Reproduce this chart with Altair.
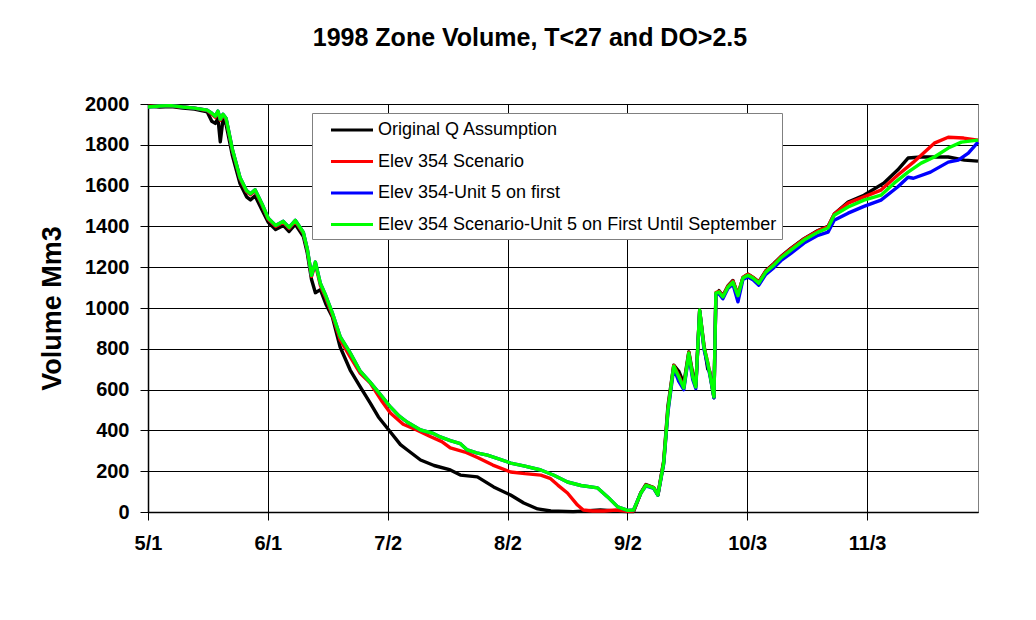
import altair as alt
import pandas as pd

# ---- data (day offset from 5/1/1998, volume Mm3) ----
series_names = [
    "Original Q Assumption",
    "Elev 354 Scenario",
    "Elev 354-Unit 5 on first",
    "Elev 354 Scenario-Unit 5 on First Until September",
]
series_colors = ["#000000", "#FF0000", "#0000FF", "#00FF00"]

tick_days = [0, 31, 62, 93, 124, 155, 186]
tick_labels = ["5/1", "6/1", "7/2", "8/2", "9/2", "10/3", "11/3"]
y_ticks = [0, 200, 400, 600, 800, 1000, 1200, 1400, 1600, 1800, 2000]

original_q = [
    (0, 1990), (3, 1985), (6, 1988), (9, 1980), (12, 1975), (15.3, 1962), (16.5, 1915),
    (17.4, 1905), (18.1, 1930), (18.7, 1815), (19.4, 1925), (20.2, 1900), (21.8, 1750),
    (23.8, 1610), (25.5, 1545), (26.5, 1530), (27.7, 1550), (29.5, 1480), (31.1, 1420),
    (33.0, 1385), (35.0, 1405), (36.5, 1375), (38.1, 1410), (40.2, 1350), (41.2, 1270),
    (42.3, 1140), (43.3, 1075), (44.6, 1090), (46.0, 1020), (47.7, 956), (49.7, 809),
    (52.3, 696), (54.9, 613), (57.5, 534), (59.6, 466), (62.7, 392), (65.3, 330),
    (67.1, 304), (70.5, 255), (74.0, 228), (78.2, 206), (80.8, 181), (85.2, 172),
    (89.4, 123), (93.8, 83), (97.2, 44), (100.8, 15), (104.2, 5), (110.0, 2), (117.0, 10),
    (121.0, 5), (124.1, 2), (125.6, 2), (127.5, 95), (128.8, 135), (130.8, 120),
    (131.9, 85), (133.4, 250), (134.5, 520), (136.0, 720), (137.3, 690), (138.6, 630),
    (139.9, 785), (140.9, 680), (141.7, 620), (142.7, 985), (143.8, 820), (144.8, 700),
    (145.3, 690), (146.4, 560), (146.9, 1065), (147.7, 1085), (148.7, 1060), (150.0, 1108),
    (151.3, 1135), (152.6, 1065), (153.9, 1150), (155.2, 1166), (156.5, 1150), (158.0, 1128),
    (159.8, 1182), (161.9, 1218), (163.7, 1252), (166.3, 1292), (169.7, 1340), (173.3, 1380),
    (175.9, 1400), (177.5, 1460), (181.1, 1519), (185.2, 1553), (190.3, 1612), (193.9, 1676),
    (196.6, 1735), (200.0, 1740), (207.0, 1740), (211.2, 1725), (214.7, 1720),
]

elev354 = [
    (0, 1988), (3, 1990), (6, 1990), (9, 1985), (12, 1980), (15.3, 1968), (16.5, 1950),
    (17.4, 1935), (18.1, 1960), (18.7, 1920), (19.4, 1945), (20.2, 1925), (21.8, 1775),
    (23.8, 1635), (25.5, 1570), (26.5, 1555), (27.7, 1575), (29.5, 1505), (31.1, 1435),
    (33.0, 1400), (35.0, 1420), (36.5, 1390), (38.1, 1425), (40.2, 1365), (41.2, 1285),
    (42.3, 1155), (43.3, 1215), (44.6, 1110), (46.0, 1050), (47.7, 965), (49.7, 845),
    (52.3, 760), (54.9, 680), (57.5, 632), (60.6, 540), (62.7, 485), (66.0, 430),
    (69.5, 402), (73.0, 370), (76.0, 345), (78.2, 314), (82.0, 294), (85.5, 265),
    (89.2, 230), (93.8, 196), (97.5, 188), (101.6, 181), (104.0, 165), (106.0, 132),
    (108.5, 93), (111.1, 34), (112.6, 10), (115.0, 5), (118.0, 5), (121.0, 10), (124.1, 3),
    (125.6, 5), (127.5, 95), (128.8, 132), (130.8, 120), (131.9, 84), (133.4, 245),
    (134.5, 505), (136.0, 718), (137.3, 668), (138.6, 612), (139.9, 782), (140.9, 665),
    (141.7, 616), (142.7, 988), (143.8, 812), (144.8, 732), (145.3, 684), (146.4, 566),
    (146.9, 1076), (147.7, 1082), (148.7, 1058), (150.0, 1106), (151.3, 1132), (152.6, 1064),
    (153.9, 1150), (155.2, 1166), (156.5, 1150), (158.0, 1126), (159.8, 1180), (161.9, 1215),
    (163.7, 1250), (166.3, 1290), (169.7, 1338), (173.3, 1378), (175.9, 1398), (177.5, 1460),
    (181.1, 1514), (185.2, 1545), (189.6, 1578), (193.9, 1651), (198.0, 1715), (203.4, 1808),
    (207.0, 1837), (211.0, 1833), (214.7, 1823),
]

unit5_first = [
    (0, 1985), (3, 1990), (6, 1992), (9, 1985), (12, 1980), (15.3, 1970), (16.5, 1955),
    (17.4, 1940), (18.1, 1965), (18.7, 1925), (19.4, 1950), (20.2, 1930), (21.8, 1780),
    (23.8, 1640), (25.5, 1575), (26.5, 1560), (27.7, 1580), (29.5, 1510), (31.1, 1440),
    (33.0, 1405), (35.0, 1425), (36.5, 1395), (38.1, 1430), (40.2, 1370), (41.2, 1290),
    (42.3, 1160), (43.3, 1225), (44.6, 1120), (46.0, 1060), (47.7, 975), (49.7, 860),
    (52.3, 780), (54.9, 690), (57.5, 635), (60.6, 565), (62.7, 515), (65.0, 470),
    (67.1, 440), (70.5, 402), (73.8, 385), (75.6, 368), (78.2, 350), (80.8, 335),
    (82.6, 304), (85.0, 290), (87.8, 279), (90.5, 262), (93.8, 240), (97.5, 225),
    (101.6, 206), (105.0, 180), (108.5, 147), (112.0, 130), (116.3, 118), (118.9, 74),
    (121.5, 25), (124.1, 8), (125.6, 10), (127.5, 93), (128.8, 128), (130.8, 116),
    (131.9, 82), (133.4, 235), (134.5, 490), (136.0, 705), (137.3, 640), (138.6, 600),
    (139.9, 770), (140.9, 650), (141.7, 605), (142.7, 985), (143.8, 800), (144.8, 720),
    (145.3, 675), (146.4, 560), (146.9, 1068), (147.7, 1070), (148.7, 1045), (150.0, 1095),
    (151.3, 1118), (152.6, 1030), (153.9, 1140), (155.2, 1152), (156.5, 1138), (158.0, 1112),
    (159.8, 1165), (161.9, 1198), (163.7, 1232), (166.3, 1268), (169.7, 1318), (173.3, 1356),
    (175.9, 1372), (177.5, 1430), (181.1, 1465), (185.2, 1498), (189.6, 1529), (193.9, 1593),
    (196.6, 1641), (198.0, 1636), (202.4, 1666), (207.0, 1715), (209.6, 1725), (212.2, 1759),
    (214.7, 1813),
]

until_september = [
    (0, 1985), (3, 1990), (6, 1992), (9, 1985), (12, 1980), (15.3, 1970), (16.5, 1955),
    (17.4, 1940), (18.1, 1965), (18.7, 1925), (19.4, 1950), (20.2, 1930), (21.8, 1780),
    (23.8, 1640), (25.5, 1575), (26.5, 1560), (27.7, 1580), (29.5, 1510), (31.1, 1440),
    (33.0, 1405), (35.0, 1425), (36.5, 1395), (38.1, 1430), (40.2, 1370), (41.2, 1290),
    (42.3, 1160), (43.3, 1225), (44.6, 1120), (46.0, 1060), (47.7, 975), (49.7, 860),
    (52.3, 780), (54.9, 690), (57.5, 635), (60.6, 565), (62.7, 515), (65.0, 470),
    (67.1, 440), (70.5, 402), (73.8, 385), (75.6, 368), (78.2, 350), (80.8, 335),
    (82.6, 304), (85.0, 290), (87.8, 279), (90.5, 262), (93.8, 240), (97.5, 225),
    (101.6, 206), (105.0, 180), (108.5, 147), (112.0, 130), (116.3, 118), (118.9, 74),
    (121.5, 25), (124.1, 8), (125.6, 10), (127.5, 93), (128.8, 130), (130.8, 118),
    (131.9, 83), (133.4, 240), (134.5, 500), (136.0, 715), (137.3, 662), (138.6, 608),
    (139.9, 779), (140.9, 662), (141.7, 613), (142.7, 990), (143.8, 809), (144.8, 730),
    (145.3, 681), (146.4, 564), (146.9, 1073), (147.7, 1078), (148.7, 1054), (150.0, 1102),
    (151.3, 1127), (152.6, 1060), (153.9, 1147), (155.2, 1161), (156.5, 1147), (158.0, 1122),
    (159.8, 1176), (161.9, 1210), (163.7, 1245), (166.3, 1284), (169.7, 1333), (173.3, 1372),
    (175.9, 1392), (177.5, 1455), (181.1, 1495), (185.2, 1529), (189.6, 1553), (193.0, 1612),
    (196.6, 1666), (200.0, 1710), (203.4, 1740), (207.0, 1784), (210.4, 1813), (214.7, 1823),
]

# ---- build table ----
rows = []
for name, pts in zip(series_names, [original_q, elev354, unit5_first, until_september]):
    for d, v in pts:
        rows.append({"series": name, "day": d, "volume": v})
df = pd.DataFrame(rows)

FONT = "Liberation Sans"
label_expr = "[" + ",".join("'%s'" % t for t in tick_labels) + "][round(datum.value/31)]"

x_enc = alt.X(
    "day:Q",
    scale=alt.Scale(domain=[0, 214.7], nice=False, zero=False),
    axis=alt.Axis(values=tick_days, labelExpr=label_expr, title=None, labelPadding=13,
                  labelFlush=False),
)
y_enc = alt.Y(
    "volume:Q",
    scale=alt.Scale(domain=[0, 2000], nice=False),
    axis=alt.Axis(values=y_ticks, format="d", title="Volume Mm3", labelPadding=11,
                  titlePadding=18, titleFontSize=27, labelFlush=False),
)
color_enc = alt.Color(
    "series:N",
    scale=alt.Scale(domain=series_names, range=series_colors),
    legend=alt.Legend(
        title=None, orient="none", legendX=164, legendY=9, direction="vertical",
        fillColor="white", strokeColor="#808080", padding=5,
        symbolType="M-2,0H2", symbolSize=441, symbolStrokeWidth=3,
        symbolOffset=23, labelOffset=14, rowPadding=10.5,
        labelFontSize=18, labelFont=FONT, labelColor="black", labelLimit=700,
    ),
)

layers = []
for name in series_names:
    layers.append(
        alt.Chart(df)
        .transform_filter(alt.datum.series == name)
        .mark_line(strokeWidth=3.4, strokeJoin="round")
        .encode(x=x_enc, y=y_enc, color=color_enc)
    )

chart = (
    alt.layer(*layers)
    .properties(
        width=830,
        height=408,
        background="white",
        autosize=alt.AutoSizeParams(type="none"),
        padding={"left": 140, "top": 96, "right": 50, "bottom": 98},
        title=alt.TitleParams(
            "1998 Zone Volume, T<27 and DO>2.5", font=FONT, fontSize=25, fontWeight="bold",
            color="black", anchor="middle", frame="group", dx=-33, offset=43,
        ),
    )
    .configure_view(stroke="#808080", strokeWidth=1)
    .configure_axis(
        labelFont=FONT, labelFontSize=20, labelFontWeight="bold", labelColor="black",
        titleFont=FONT, titleFontWeight="bold", titleColor="black",
        domainColor="black", domainWidth=1.5, tickColor="black", tickSize=8,
        gridColor="black", gridWidth=1, gridOpacity=1, grid=True,
    )
)

chart.save("out.html", embed_options={"renderer": "svg", "actions": False})
